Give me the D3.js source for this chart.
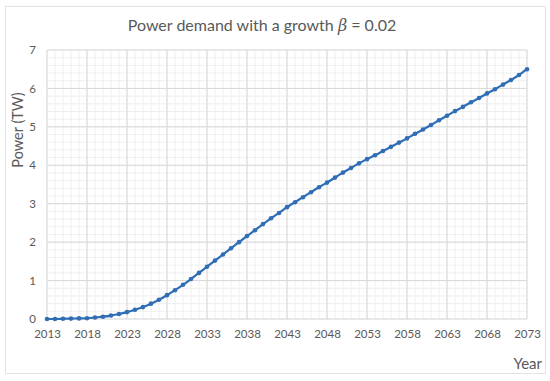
<!DOCTYPE html>
<html>
<head>
<meta charset="utf-8">
<script src="https://cdn.jsdelivr.net/npm/d3@7"></script>
<style>
  body { margin: 0; background: #fff; }
  svg { font-family: Lato, "Open Sans", sans-serif; }
</style>
</head>
<body>
<svg id="chart"></svg>
<script>
// annees (une par point)
const years = d3.range(2013, 2074);
// puissance en TW
const power = [
  0.0, 0.0, 0.005, 0.01, 0.015, 0.02, 0.04, 0.06, 0.09, 0.13,
  0.18, 0.24, 0.31, 0.4, 0.5, 0.62, 0.75, 0.89, 1.04, 1.2,
  1.36, 1.52, 1.68, 1.84, 2.0, 2.16, 2.31, 2.47, 2.62, 2.76,
  2.91, 3.04, 3.17, 3.3, 3.43, 3.55, 3.68, 3.81, 3.93, 4.05,
  4.16, 4.26, 4.37, 4.48, 4.59, 4.7, 4.82, 4.93, 5.05, 5.17,
  5.29, 5.41, 5.52, 5.64, 5.75, 5.87, 5.98, 6.1, 6.22, 6.35, 6.5
];
const xTicks = d3.range(2013, 2074, 5);
const yTicks = d3.range(0, 8, 1);

const width = 550, height = 381;
const margin = { top: 50, right: 23, bottom: 62, left: 47 };

const svg = d3.select("#chart").attr("width", width).attr("height", height);

// cadre du graphique
svg.append("rect")
  .attr("x", 5.5).attr("y", 6.5)
  .attr("width", 540).attr("height", 367)
  .attr("fill", "#fff")
  .attr("stroke", "#e3e3e3");

const x = d3.scaleLinear().domain([2013, 2073]).range([margin.left, width - margin.right]);
const y = d3.scaleLinear().domain([0, 7]).range([height - margin.bottom, margin.top]);

const g = svg.append("g");

// grille secondaire
g.selectAll(".vminor")
  .data(d3.range(2013, 2074, 1))
  .join("line")
  .attr("x1", (d) => x(d)).attr("x2", (d) => x(d))
  .attr("y1", y(0)).attr("y2", y(7))
  .attr("stroke", "#efefef");
g.selectAll(".hminor")
  .data(d3.range(0, 7.01, 0.2))
  .join("line")
  .attr("x1", x(2013)).attr("x2", x(2073))
  .attr("y1", (d) => y(d)).attr("y2", (d) => y(d))
  .attr("stroke", "#efefef");

// grille principale
g.append("g")
  .selectAll("line")
  .data(xTicks)
  .join("line")
  .attr("x1", (d) => x(d)).attr("x2", (d) => x(d))
  .attr("y1", y(0)).attr("y2", y(7))
  .attr("stroke", "#d9d9d9");
g.append("g")
  .selectAll("line")
  .data(yTicks)
  .join("line")
  .attr("x1", x(2013)).attr("x2", x(2073))
  .attr("y1", (d) => y(d)).attr("y2", (d) => y(d))
  .attr("stroke", "#d9d9d9");

// axes
const xAxis = g.append("g")
  .attr("transform", `translate(0,${y(0)})`)
  .call(d3.axisBottom(x).tickValues(xTicks).tickFormat(d3.format("d")).tickSize(0).tickPadding(11));
const yAxis = g.append("g")
  .attr("transform", `translate(${x(2013)},0)`)
  .call(d3.axisLeft(y).tickValues(yTicks).tickFormat(d3.format("d")).tickSize(0).tickPadding(11));
[xAxis, yAxis].forEach((a) => {
  a.select(".domain").remove();
  a.selectAll("text")
    .attr("fill", "#595959")
    .style("font-size", "11.5px")
    .style("font-family", "Lato, sans-serif");
});

// courbe
const line = d3.line()
  .x((d, i) => x(years[i]))
  .y((d) => y(d))
  .curve(d3.curveMonotoneX);

g.append("path")
  .datum(power)
  .attr("d", line)
  .attr("fill", "none")
  .attr("stroke", "#2f6db5")
  .attr("stroke-width", 2.2);

g.selectAll(".pt")
  .data(power)
  .join("circle")
  .attr("cx", (d, i) => x(years[i]))
  .attr("cy", (d) => y(d))
  .attr("r", 2.3)
  .attr("fill", "#2f6db5");

// titre
const title = svg.append("text")
  .attr("x", 262).attr("y", 31)
  .attr("text-anchor", "middle")
  .attr("fill", "#595959")
  .style("font-size", "16px");
title.append("tspan").text("Power demand with a growth ");
title.append("tspan").text("β").style("font-style", "italic").style("font-family", "DejaVu Serif, serif");
title.append("tspan").text(" = 0.02");

// titres des axes
svg.append("text")
  .attr("transform", "translate(23,130) rotate(-90)")
  .attr("text-anchor", "middle")
  .attr("fill", "#595959")
  .style("font-size", "14.5px")
  .text("Power (TW)");

svg.append("text")
  .attr("x", 542).attr("y", 369)
  .attr("text-anchor", "end")
  .attr("fill", "#595959")
  .style("font-size", "15px")
  .text("Year");
</script>
</body>
</html>
